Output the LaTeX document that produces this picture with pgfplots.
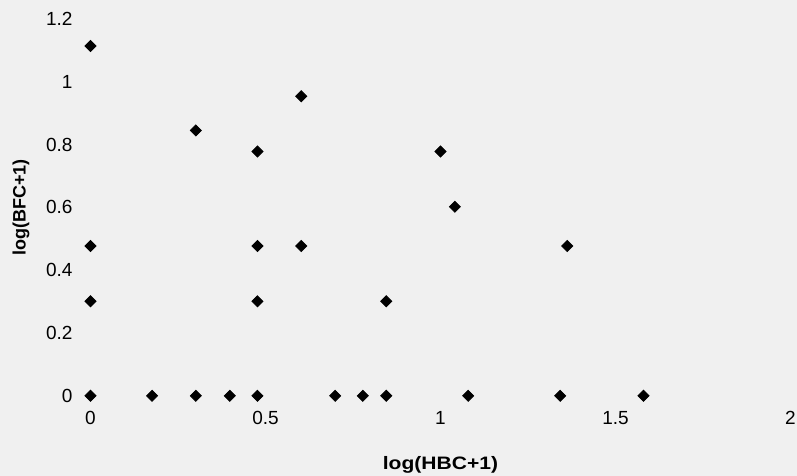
\documentclass[border=0pt]{standalone}
\usepackage{fontspec}
\setmainfont{Liberation Sans}
\usepackage{pgfplots}
\pgfplotsset{compat=1.18}
\definecolor{bgc}{RGB}{240,240,240}
\begin{document}
\begin{tikzpicture}
\path[use as bounding box, fill=bgc] (-45.25pt,-40pt) rectangle (353.25pt,197.9pt);
\begin{axis}[
  at={(0,0)}, anchor=south west,
  scale only axis, width=350pt, height=188.4pt,
  xmin=0, xmax=2, ymin=0, ymax=1.2,
  clip=false,
  axis line style={draw=none},
  major tick length=0pt,
  xtick={0,0.5,1,1.5,2},
  ytick={0,0.2,0.4,0.6,0.8,1,1.2},
  /pgf/number format/assume math mode=true,
  tick label style={font=\fontsize{9.5}{11}\selectfont, text=black},
  xticklabel style={yshift=-4.4pt},
  yticklabel style={xshift=-5.5pt},
  xlabel={\scalebox{1.17}[1]{\textbf{log(HBC+1)}}},
  ylabel={\textbf{log(BFC+1)}},
  label style={font=\fontsize{9}{11}\selectfont},
  xlabel style={at={(axis description cs:0.5,0)}, anchor=center, yshift=-34.5pt},
  ylabel style={at={(axis description cs:0,0.5)}, anchor=center, rotate=0, yshift=36.75pt, yshift=-2pt},
]
\addplot[only marks, mark=square*, mark size=1.95pt, mark options={rotate=45, fill=black, draw=black}] coordinates {
(0,0) (0,0.301) (0,0.477) (0,1.114)
(0.176,0) (0.301,0) (0.301,0.845) (0.398,0)
(0.477,0) (0.477,0.301) (0.477,0.477) (0.477,0.778)
(0.602,0.477) (0.602,0.954)
(0.699,0) (0.778,0) (0.845,0) (0.845,0.301)
(1,0.778) (1.041,0.602) (1.079,0)
(1.342,0) (1.362,0.477) (1.580,0)
};
\end{axis}
\end{tikzpicture}
\end{document}
